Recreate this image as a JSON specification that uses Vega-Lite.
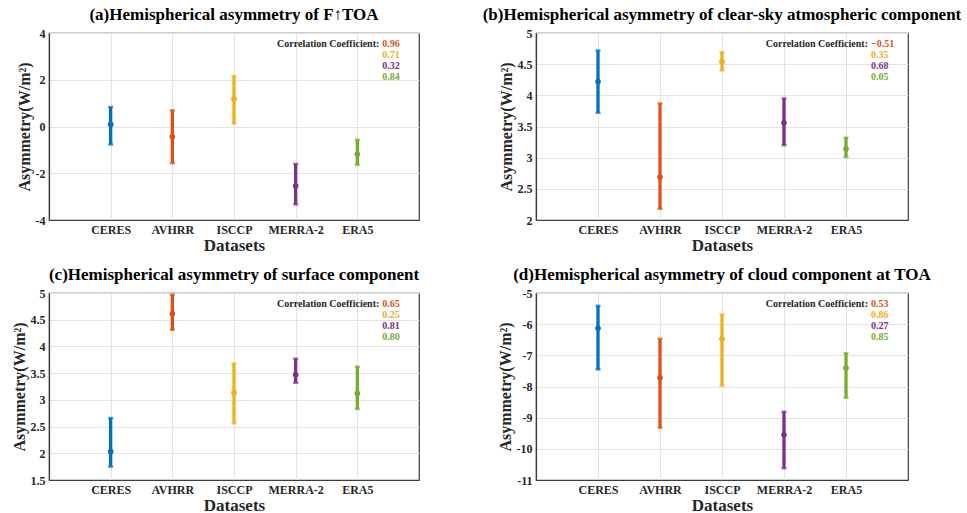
{
  "$schema": "https://vega.github.io/schema/vega-lite/v6.json",
  "background": "white",
  "padding": {"left": 10, "top": 5, "right": 0, "bottom": 0},
  "datasets": {
    "pts": [
      {"panel": "a", "dataset": "CERES", "mean": 0.09, "lo": -0.77, "hi": 0.83},
      {"panel": "a", "dataset": "AVHRR", "mean": -0.44, "lo": -1.57, "hi": 0.69},
      {"panel": "a", "dataset": "ISCCP", "mean": 1.17, "lo": 0.13, "hi": 2.16},
      {"panel": "a", "dataset": "MERRA-2", "mean": -2.55, "lo": -3.33, "hi": -1.6},
      {"panel": "a", "dataset": "ERA5", "mean": -1.19, "lo": -1.64, "hi": -0.57},
      {"panel": "b", "dataset": "CERES", "mean": 4.22, "lo": 3.72, "hi": 4.72},
      {"panel": "b", "dataset": "AVHRR", "mean": 2.69, "lo": 2.18, "hi": 3.87},
      {"panel": "b", "dataset": "ISCCP", "mean": 4.54, "lo": 4.4, "hi": 4.69},
      {"panel": "b", "dataset": "MERRA-2", "mean": 3.56, "lo": 3.2, "hi": 3.95},
      {"panel": "b", "dataset": "ERA5", "mean": 3.14, "lo": 3.01, "hi": 3.32},
      {"panel": "c", "dataset": "CERES", "mean": 2.03, "lo": 1.75, "hi": 2.66},
      {"panel": "c", "dataset": "AVHRR", "mean": 4.61, "lo": 4.31, "hi": 4.97},
      {"panel": "c", "dataset": "ISCCP", "mean": 3.13, "lo": 2.56, "hi": 3.68},
      {"panel": "c", "dataset": "MERRA-2", "mean": 3.47, "lo": 3.32, "hi": 3.77},
      {"panel": "c", "dataset": "ERA5", "mean": 3.12, "lo": 2.83, "hi": 3.62},
      {"panel": "d", "dataset": "CERES", "mean": -6.13, "lo": -7.45, "hi": -5.41},
      {"panel": "d", "dataset": "AVHRR", "mean": -7.72, "lo": -9.32, "hi": -6.47},
      {"panel": "d", "dataset": "ISCCP", "mean": -6.47, "lo": -7.97, "hi": -5.69},
      {"panel": "d", "dataset": "MERRA-2", "mean": -9.55, "lo": -10.62, "hi": -8.81},
      {"panel": "d", "dataset": "ERA5", "mean": -7.41, "lo": -8.36, "hi": -6.93}
    ],
    "corr": [
      {"panel": "a", "dataset": "AVHRR", "r": 0.96},
      {"panel": "a", "dataset": "ISCCP", "r": 0.71},
      {"panel": "a", "dataset": "MERRA-2", "r": 0.32},
      {"panel": "a", "dataset": "ERA5", "r": 0.84},
      {"panel": "b", "dataset": "AVHRR", "r": -0.51},
      {"panel": "b", "dataset": "ISCCP", "r": 0.35},
      {"panel": "b", "dataset": "MERRA-2", "r": 0.68},
      {"panel": "b", "dataset": "ERA5", "r": 0.05},
      {"panel": "c", "dataset": "AVHRR", "r": 0.65},
      {"panel": "c", "dataset": "ISCCP", "r": 0.25},
      {"panel": "c", "dataset": "MERRA-2", "r": 0.81},
      {"panel": "c", "dataset": "ERA5", "r": 0.8},
      {"panel": "d", "dataset": "AVHRR", "r": 0.53},
      {"panel": "d", "dataset": "ISCCP", "r": 0.86},
      {"panel": "d", "dataset": "MERRA-2", "r": 0.27},
      {"panel": "d", "dataset": "ERA5", "r": 0.85}
    ]
  },
  "config": {
    "font": "Liberation Serif",
    "view": {"stroke": "#3c3c3c", "strokeWidth": 1.2},
    "axis": {
      "labelFont": "Liberation Serif", "labelFontWeight": "bold", "labelFontSize": 12, "labelColor": "#262626",
      "titleFont": "Liberation Serif", "titleFontWeight": "bold", "titleFontSize": 17, "titleColor": "#262626",
      "grid": true, "gridColor": "#e3e3e3", "ticks": false, "domain": true, "domainColor": "#3c3c3c", "domainWidth": 1.2, "labelPadding": 4
    },
    "axisX": {"titlePadding": 2},
    "axisY": {"titleFontSize": 16, "titlePadding": 3, "format": "~g", "labelExpr": "replace(datum.label, '−', '-')"},
    "title": {"font": "Liberation Serif", "fontSize": 17, "fontWeight": "bold", "color": "#000000", "offset": 3},
    "text": {"font": "Liberation Serif", "fontWeight": "bold", "fontSize": 10, "baseline": "middle"}
  },
  "columns": 2,
  "spacing": {"row": 73, "column": 117},
  "bounds": "flush",
  "concat": [
    {
      "width": 370, "height": 187,
      "title": "(a)Hemispherical asymmetry of F↑TOA",
      "encoding": {
        "x": {"field": "dataset", "type": "nominal", "scale": {"type": "point", "padding": 1, "domain": ["CERES", "AVHRR", "ISCCP", "MERRA-2", "ERA5"]}, "axis": {"title": "Datasets", "labelAngle": 0}},
        "color": {"field": "dataset", "type": "nominal", "scale": {"domain": ["CERES", "AVHRR", "ISCCP", "MERRA-2", "ERA5"], "range": ["#0072BD", "#D95319", "#EDB120", "#7E2F8E", "#77AC30"]}, "legend": null}
      },
      "layer": [
        {
          "data": {"name": "pts"},
          "transform": [{"filter": "datum.panel === 'a'"}],
          "layer": [
            {"mark": {"type": "rule", "strokeWidth": 3.3}, "encoding": {"y": {"field": "lo", "type": "quantitative", "scale": {"domain": [-4, 4], "nice": false, "zero": false}, "axis": {"values": [-4, -2, 0, 2, 4], "title": "Asymmetry(W/m²)"}}, "y2": {"field": "hi"}}},
            {"mark": {"type": "tick", "thickness": 2.5, "size": 5}, "encoding": {"y": {"field": "lo", "type": "quantitative", "scale": {"domain": [-4, 4], "nice": false, "zero": false}, "axis": {"values": [-4, -2, 0, 2, 4], "title": "Asymmetry(W/m²)"}}}},
            {"mark": {"type": "tick", "thickness": 2.5, "size": 5}, "encoding": {"y": {"field": "hi", "type": "quantitative", "scale": {"domain": [-4, 4], "nice": false, "zero": false}, "axis": {"values": [-4, -2, 0, 2, 4], "title": "Asymmetry(W/m²)"}}}},
            {"mark": {"type": "point", "filled": true, "size": 32, "opacity": 1}, "encoding": {"y": {"field": "mean", "type": "quantitative", "scale": {"domain": [-4, 4], "nice": false, "zero": false}, "axis": {"values": [-4, -2, 0, 2, 4], "title": "Asymmetry(W/m²)"}}}}
          ]
        },
        {
          "data": {"name": "corr"},
          "transform": [{"filter": "datum.panel === 'a'"}, {"window": [{"op": "row_number", "as": "line"}]}],
          "encoding": {
            "x": {"datum": "ERA5", "type": "nominal", "scale": {"type": "point", "padding": 1, "domain": ["CERES", "AVHRR", "ISCCP", "MERRA-2", "ERA5"]}, "axis": {"title": "Datasets", "labelAngle": 0}},
            "y": {"field": "line", "type": "quantitative", "scale": {"domain": [0, 17], "reverse": true, "nice": false, "zero": false}, "axis": null}
          },
          "layer": [
            {"transform": [{"filter": "datum.dataset === 'AVHRR'"}], "mark": {"type": "text", "align": "right", "dx": 22}, "encoding": {"text": {"value": "Correlation Coefficient:"}, "color": {"value": "#262626"}}},
            {"mark": {"type": "text", "align": "left", "dx": 25}, "encoding": {"text": {"field": "r", "type": "quantitative", "format": ".2f"}}}
          ]
        }
      ],
      "resolve": {"scale": {"y": "independent"}}
    },
    {
      "width": 372, "height": 187,
      "title": "(b)Hemispherical asymmetry of clear-sky atmospheric component",
      "encoding": {
        "x": {"field": "dataset", "type": "nominal", "scale": {"type": "point", "padding": 1, "domain": ["CERES", "AVHRR", "ISCCP", "MERRA-2", "ERA5"]}, "axis": {"title": "Datasets", "labelAngle": 0}},
        "color": {"field": "dataset", "type": "nominal", "scale": {"domain": ["CERES", "AVHRR", "ISCCP", "MERRA-2", "ERA5"], "range": ["#0072BD", "#D95319", "#EDB120", "#7E2F8E", "#77AC30"]}, "legend": null}
      },
      "layer": [
        {
          "data": {"name": "pts"},
          "transform": [{"filter": "datum.panel === 'b'"}],
          "layer": [
            {"mark": {"type": "rule", "strokeWidth": 3.3}, "encoding": {"y": {"field": "lo", "type": "quantitative", "scale": {"domain": [2, 5], "nice": false, "zero": false}, "axis": {"values": [2, 2.5, 3, 3.5, 4, 4.5, 5], "title": "Asymmetry(W/m²)"}}, "y2": {"field": "hi"}}},
            {"mark": {"type": "tick", "thickness": 2.5, "size": 5}, "encoding": {"y": {"field": "lo", "type": "quantitative", "scale": {"domain": [2, 5], "nice": false, "zero": false}, "axis": {"values": [2, 2.5, 3, 3.5, 4, 4.5, 5], "title": "Asymmetry(W/m²)"}}}},
            {"mark": {"type": "tick", "thickness": 2.5, "size": 5}, "encoding": {"y": {"field": "hi", "type": "quantitative", "scale": {"domain": [2, 5], "nice": false, "zero": false}, "axis": {"values": [2, 2.5, 3, 3.5, 4, 4.5, 5], "title": "Asymmetry(W/m²)"}}}},
            {"mark": {"type": "point", "filled": true, "size": 32, "opacity": 1}, "encoding": {"y": {"field": "mean", "type": "quantitative", "scale": {"domain": [2, 5], "nice": false, "zero": false}, "axis": {"values": [2, 2.5, 3, 3.5, 4, 4.5, 5], "title": "Asymmetry(W/m²)"}}}}
          ]
        },
        {
          "data": {"name": "corr"},
          "transform": [{"filter": "datum.panel === 'b'"}, {"window": [{"op": "row_number", "as": "line"}]}],
          "encoding": {
            "x": {"datum": "ERA5", "type": "nominal", "scale": {"type": "point", "padding": 1, "domain": ["CERES", "AVHRR", "ISCCP", "MERRA-2", "ERA5"]}, "axis": {"title": "Datasets", "labelAngle": 0}},
            "y": {"field": "line", "type": "quantitative", "scale": {"domain": [0, 17], "reverse": true, "nice": false, "zero": false}, "axis": null}
          },
          "layer": [
            {"transform": [{"filter": "datum.dataset === 'AVHRR'"}], "mark": {"type": "text", "align": "right", "dx": 22}, "encoding": {"text": {"value": "Correlation Coefficient:"}, "color": {"value": "#262626"}}},
            {"mark": {"type": "text", "align": "left", "dx": 25}, "encoding": {"text": {"field": "r", "type": "quantitative", "format": ".2f"}}}
          ]
        }
      ],
      "resolve": {"scale": {"y": "independent"}}
    },
    {
      "width": 370, "height": 187,
      "title": "(c)Hemispherical asymmetry of surface component",
      "encoding": {
        "x": {"field": "dataset", "type": "nominal", "scale": {"type": "point", "padding": 1, "domain": ["CERES", "AVHRR", "ISCCP", "MERRA-2", "ERA5"]}, "axis": {"title": "Datasets", "labelAngle": 0}},
        "color": {"field": "dataset", "type": "nominal", "scale": {"domain": ["CERES", "AVHRR", "ISCCP", "MERRA-2", "ERA5"], "range": ["#0072BD", "#D95319", "#EDB120", "#7E2F8E", "#77AC30"]}, "legend": null}
      },
      "layer": [
        {
          "data": {"name": "pts"},
          "transform": [{"filter": "datum.panel === 'c'"}],
          "layer": [
            {"mark": {"type": "rule", "strokeWidth": 3.3}, "encoding": {"y": {"field": "lo", "type": "quantitative", "scale": {"domain": [1.5, 5], "nice": false, "zero": false}, "axis": {"values": [1.5, 2, 2.5, 3, 3.5, 4, 4.5, 5], "title": "Asymmetry(W/m²)"}}, "y2": {"field": "hi"}}},
            {"mark": {"type": "tick", "thickness": 2.5, "size": 5}, "encoding": {"y": {"field": "lo", "type": "quantitative", "scale": {"domain": [1.5, 5], "nice": false, "zero": false}, "axis": {"values": [1.5, 2, 2.5, 3, 3.5, 4, 4.5, 5], "title": "Asymmetry(W/m²)"}}}},
            {"mark": {"type": "tick", "thickness": 2.5, "size": 5}, "encoding": {"y": {"field": "hi", "type": "quantitative", "scale": {"domain": [1.5, 5], "nice": false, "zero": false}, "axis": {"values": [1.5, 2, 2.5, 3, 3.5, 4, 4.5, 5], "title": "Asymmetry(W/m²)"}}}},
            {"mark": {"type": "point", "filled": true, "size": 32, "opacity": 1}, "encoding": {"y": {"field": "mean", "type": "quantitative", "scale": {"domain": [1.5, 5], "nice": false, "zero": false}, "axis": {"values": [1.5, 2, 2.5, 3, 3.5, 4, 4.5, 5], "title": "Asymmetry(W/m²)"}}}}
          ]
        },
        {
          "data": {"name": "corr"},
          "transform": [{"filter": "datum.panel === 'c'"}, {"window": [{"op": "row_number", "as": "line"}]}],
          "encoding": {
            "x": {"datum": "ERA5", "type": "nominal", "scale": {"type": "point", "padding": 1, "domain": ["CERES", "AVHRR", "ISCCP", "MERRA-2", "ERA5"]}, "axis": {"title": "Datasets", "labelAngle": 0}},
            "y": {"field": "line", "type": "quantitative", "scale": {"domain": [0, 17], "reverse": true, "nice": false, "zero": false}, "axis": null}
          },
          "layer": [
            {"transform": [{"filter": "datum.dataset === 'AVHRR'"}], "mark": {"type": "text", "align": "right", "dx": 22}, "encoding": {"text": {"value": "Correlation Coefficient:"}, "color": {"value": "#262626"}}},
            {"mark": {"type": "text", "align": "left", "dx": 25}, "encoding": {"text": {"field": "r", "type": "quantitative", "format": ".2f"}}}
          ]
        }
      ],
      "resolve": {"scale": {"y": "independent"}}
    },
    {
      "width": 372, "height": 187,
      "title": "(d)Hemispherical asymmetry of cloud component at TOA",
      "encoding": {
        "x": {"field": "dataset", "type": "nominal", "scale": {"type": "point", "padding": 1, "domain": ["CERES", "AVHRR", "ISCCP", "MERRA-2", "ERA5"]}, "axis": {"title": "Datasets", "labelAngle": 0}},
        "color": {"field": "dataset", "type": "nominal", "scale": {"domain": ["CERES", "AVHRR", "ISCCP", "MERRA-2", "ERA5"], "range": ["#0072BD", "#D95319", "#EDB120", "#7E2F8E", "#77AC30"]}, "legend": null}
      },
      "layer": [
        {
          "data": {"name": "pts"},
          "transform": [{"filter": "datum.panel === 'd'"}],
          "layer": [
            {"mark": {"type": "rule", "strokeWidth": 3.3}, "encoding": {"y": {"field": "lo", "type": "quantitative", "scale": {"domain": [-11, -5], "nice": false, "zero": false}, "axis": {"values": [-11, -10, -9, -8, -7, -6, -5], "title": "Asymmetry(W/m²)"}}, "y2": {"field": "hi"}}},
            {"mark": {"type": "tick", "thickness": 2.5, "size": 5}, "encoding": {"y": {"field": "lo", "type": "quantitative", "scale": {"domain": [-11, -5], "nice": false, "zero": false}, "axis": {"values": [-11, -10, -9, -8, -7, -6, -5], "title": "Asymmetry(W/m²)"}}}},
            {"mark": {"type": "tick", "thickness": 2.5, "size": 5}, "encoding": {"y": {"field": "hi", "type": "quantitative", "scale": {"domain": [-11, -5], "nice": false, "zero": false}, "axis": {"values": [-11, -10, -9, -8, -7, -6, -5], "title": "Asymmetry(W/m²)"}}}},
            {"mark": {"type": "point", "filled": true, "size": 32, "opacity": 1}, "encoding": {"y": {"field": "mean", "type": "quantitative", "scale": {"domain": [-11, -5], "nice": false, "zero": false}, "axis": {"values": [-11, -10, -9, -8, -7, -6, -5], "title": "Asymmetry(W/m²)"}}}}
          ]
        },
        {
          "data": {"name": "corr"},
          "transform": [{"filter": "datum.panel === 'd'"}, {"window": [{"op": "row_number", "as": "line"}]}],
          "encoding": {
            "x": {"datum": "ERA5", "type": "nominal", "scale": {"type": "point", "padding": 1, "domain": ["CERES", "AVHRR", "ISCCP", "MERRA-2", "ERA5"]}, "axis": {"title": "Datasets", "labelAngle": 0}},
            "y": {"field": "line", "type": "quantitative", "scale": {"domain": [0, 17], "reverse": true, "nice": false, "zero": false}, "axis": null}
          },
          "layer": [
            {"transform": [{"filter": "datum.dataset === 'AVHRR'"}], "mark": {"type": "text", "align": "right", "dx": 22}, "encoding": {"text": {"value": "Correlation Coefficient:"}, "color": {"value": "#262626"}}},
            {"mark": {"type": "text", "align": "left", "dx": 25}, "encoding": {"text": {"field": "r", "type": "quantitative", "format": ".2f"}}}
          ]
        }
      ],
      "resolve": {"scale": {"y": "independent"}}
    }
  ]
}
